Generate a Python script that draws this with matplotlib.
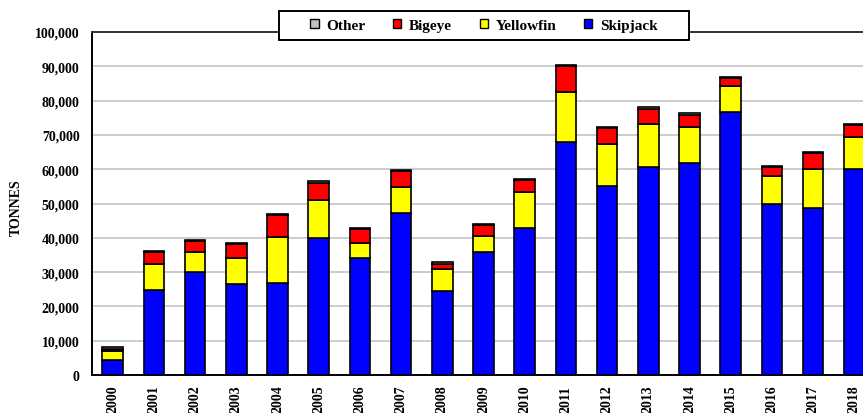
import matplotlib
matplotlib.use("Agg")
import matplotlib.pyplot as plt
from matplotlib.patches import Rectangle, Patch
from matplotlib.ticker import FuncFormatter
import numpy as np

years = [str(y) for y in range(2000, 2019)]

skipjack = [4400, 24700, 29900, 26500, 26700, 39900, 34000, 47100, 24600, 35900,
            42900, 67900, 55200, 60500, 61900, 76600, 50000, 48800, 60200]
yellowfin = [2500, 7700, 6000, 7700, 13500, 11200, 4400, 7800, 6300, 4700,
             10400, 14600, 12200, 12700, 10500, 7700, 8100, 11300, 9200]
bigeye = [800, 3400, 3200, 3900, 6400, 5000, 4100, 4500, 1600, 3000,
          3500, 7600, 4600, 4400, 3500, 2300, 2400, 4500, 3400]
other = [350, 350, 400, 400, 350, 350, 350, 400, 350, 450,
         400, 350, 400, 400, 400, 400, 350, 350, 400]

series = [("Skipjack", skipjack, "#0000ff"),
          ("Yellowfin", yellowfin, "#ffff00"),
          ("Bigeye", bigeye, "#ff0000"),
          ("Other", other, "#c0c0c0")]

plt.rcParams["font.family"] = ["Liberation Serif", "DejaVu Serif"]
plt.rcParams["font.weight"] = "bold"

W, H = 863, 414
fig = plt.figure(figsize=(W / 100, H / 100), dpi=100)
ax = fig.add_axes([92 / W, (H - 376) / H, 19 * 41.2 / W, 343 / H])

x = np.arange(len(years))
bottom = np.zeros(len(years))
for name, vals, col in series:
    v = np.array(vals, dtype=float)
    ax.bar(x, v, width=0.5, bottom=bottom, color=col, edgecolor="black",
           linewidth=1.2, zorder=3)
    bottom += v

ax.set_xlim(-0.5, len(years) - 0.5)
ax.set_ylim(0, 100000)
ax.set_yticks(np.arange(0, 100001, 10000))
ax.yaxis.set_major_formatter(FuncFormatter(lambda v, p: f"{int(v):,}"))
ax.set_xticks(x)
ax.set_xticklabels(years, rotation=90)
ax.tick_params(axis="both", length=0, labelsize=10)
ax.tick_params(axis="y", pad=9)
ax.tick_params(axis="x", pad=7)
for lab in ax.get_xticklabels() + ax.get_yticklabels():
    lab.set_fontweight("bold")

ax.grid(axis="y", color="#c8c8c8", linewidth=1.3, zorder=0)
ax.set_axisbelow(True)
for side in ["left", "bottom", "top"]:
    ax.spines[side].set_color("black")
    ax.spines[side].set_linewidth(1.4)
ax.spines["top"].set_color("#333333")
ax.spines["right"].set_visible(False)

fig.text(16 / W, 1 - 208 / H, "TONNES", rotation=90, ha="center", va="center",
         fontsize=10, fontweight="bold")

# legend box across the top spine
box = Rectangle((279 / W, 1 - 40.7 / H), 410 / W, 28.7 / H,
                transform=fig.transFigure, facecolor="white",
                edgecolor="black", linewidth=1.4, zorder=5)
fig.add_artist(box)

handles = [Patch(facecolor=col, edgecolor="black", linewidth=1.0, label=name)
           for name, vals, col in series[::-1]]
leg = fig.legend(handles=handles, loc="center", ncol=4,
                 bbox_to_anchor=(484 / W, 1 - 26.4 / H), frameon=False,
                 prop={"size": 11, "weight": "bold"},
                 handlelength=0.55, handleheight=0.55, handletextpad=0.5,
                 columnspacing=1.8, borderpad=0.2)
leg.set_zorder(6)

fig.savefig("out.png", dpi=100)
